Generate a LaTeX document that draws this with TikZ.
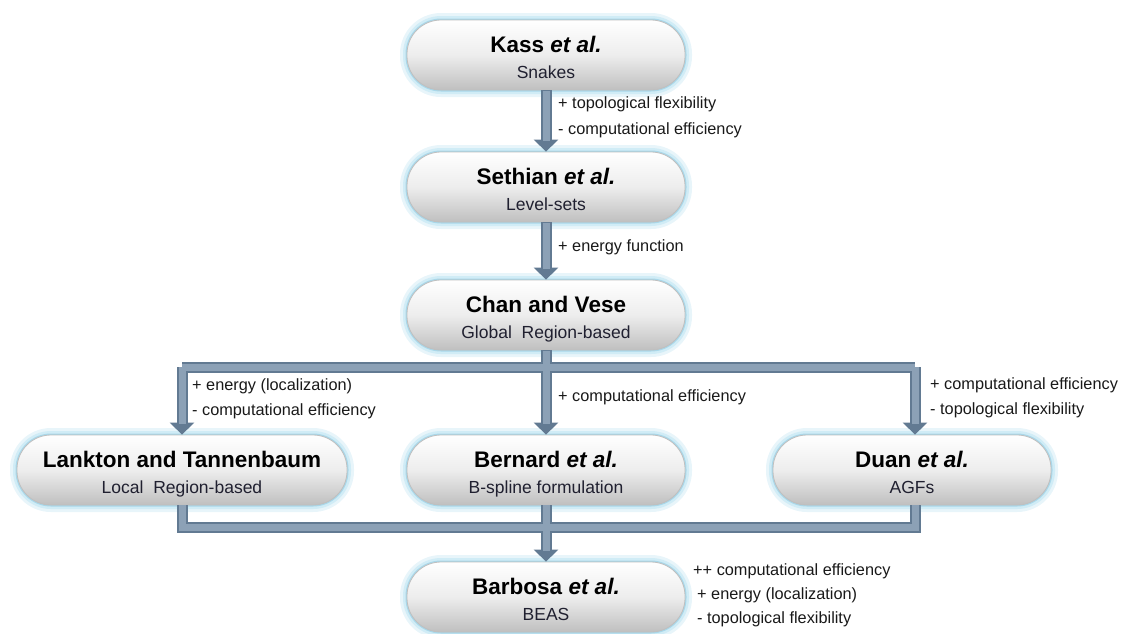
\documentclass[tikz,border=0pt]{standalone}
\usepackage{fontspec}
\setmainfont{Liberation Sans}
\usetikzlibrary{arrows.meta}
\definecolor{connout}{HTML}{627A92}
\definecolor{connin}{HTML}{8CA1B6}
\definecolor{glowA}{HTML}{E8F5FA}
\definecolor{glowB}{HTML}{D0ECF6}
\definecolor{glowC}{HTML}{A9D8EA}
\definecolor{subtxt}{HTML}{202030}
\tikzset{
  box/.style={rounded corners=34pt, minimum height=70pt, minimum width=278pt,
    inner sep=0pt, align=center, text=black,
    preaction={draw=glowA, line width=14pt},
    preaction={draw=glowB, line width=8pt},
    preaction={draw=glowC, line width=3pt},
    draw=gray!50, line width=0.8pt,
    top color=white, bottom color=gray!50, middle color=gray!14},
  lbl/.style={font=\fontsize{16.3}{19}\selectfont, text=black!90, anchor=west, inner sep=0pt},
  cout/.style={draw=connout, line width=11pt},
  cin/.style={draw=connin, line width=7pt},
  arr/.style={-{Triangle[width=24pt,length=12pt]}},
}
\newcommand{\bx}[2]{{\fontsize{22.5}{24}\selectfont\bfseries\rule{0pt}{27pt}\strut #1}\\[5pt]{\fontsize{17.5}{19}\selectfont\color{subtxt}\strut #2}}
\begin{document}
\begin{tikzpicture}[x=1pt,y=-1pt]
\useasboundingbox (0,0) rectangle (1129,633);

\coordinate (busTL) at (182,367);
\coordinate (busTR) at (915,367);
\coordinate (busTM) at (546,367);
\coordinate (busBL) at (182,527);
\coordinate (busBR) at (915,527);
\coordinate (busBM) at (546,527);

% nodes
\node[box] (kass) at (546,55) {\bx{Kass \textit{et al.}}{Snakes}};
\node[box] (seth) at (546,187) {\bx{Sethian \textit{et al.}}{Level-sets}};
\node[box] (chan) at (546,315) {\bx{Chan and Vese}{Global\ \ Region-based}};
\node[box, minimum width=330pt] (lank) at (182,470) {\bx{Lankton and Tannenbaum}{Local\ \ Region-based}};
\node[box] (bern) at (546,470) {\bx{Bernard \textit{et al.}}{B-spline formulation}};
\node[box] (duan) at (912,470) {\bx{Duan \textit{et al.}}{AGFs}};
\node[box] (barb) at (546,597) {\bx{Barbosa \textit{et al.}}{BEAS}};

% connectors (outer)
\draw[cout,arr] (kass.south) -- (seth.north);
\draw[cout,arr] (seth.south) -- (chan.north);
\draw[cout] (chan.south) -- (busTM);
\draw[cout] (busTL) -- (busTR);
\draw[cout,arr] (busTL) -- (busTL |- lank.north);
\draw[cout,arr] (busTM) -- (bern.north);
\draw[cout,arr] (busTR) -- (busTR |- duan.north);
\draw[cout] (lank.south -| busBL) -- (busBL) -- (busBR) -- (duan.south -| busBR);
\draw[cout] (bern.south) -- (busBM);
\draw[cout,arr] (busBM) -- (barb.north);

% connectors (inner light)
\draw[cin, shorten >=11pt, shorten <=1pt] (kass.south) -- (seth.north);
\draw[cin, shorten >=11pt, shorten <=1pt] (seth.south) -- (chan.north);
\draw[cin, shorten <=1pt] (chan.south) -- (busTM);
\draw[cin] (busTL) -- (busTR);
\draw[cin, shorten >=11pt] (busTL) -- (busTL |- lank.north);
\draw[cin, shorten >=11pt] (busTM) -- (bern.north);
\draw[cin, shorten >=11pt] (busTR) -- (busTR |- duan.north);
\draw[cin] (lank.south -| busBL) -- (busBL) -- (busBR) -- (duan.south -| busBR);
\draw[cin] (bern.south) -- (busBM);
\draw[cin, shorten >=11pt] (busBM) -- (barb.north);

% labels
\node[lbl] (l1) at (558,104) {+ topological flexibility};
\node[lbl] (l2) at (558,130) {- computational efficiency};
\node[lbl] (l3) at (558,247) {+ energy function};
\node[lbl] (l4) at (192,386) {+ energy (localization)};
\node[lbl] (l5) at (192,411) {- computational efficiency};
\node[lbl] (l6) at (558,397) {+ computational efficiency};
\node[lbl] (l7) at (930,385) {+ computational efficiency};
\node[lbl] (l8) at (930,410) {- topological flexibility};
\node[lbl] (l9) at (693,571) {++ computational efficiency};
\node[lbl] (l10) at (697,595) {+ energy (localization)};
\node[lbl] (l11) at (697,619) {- topological flexibility};
\end{tikzpicture}
\end{document}
